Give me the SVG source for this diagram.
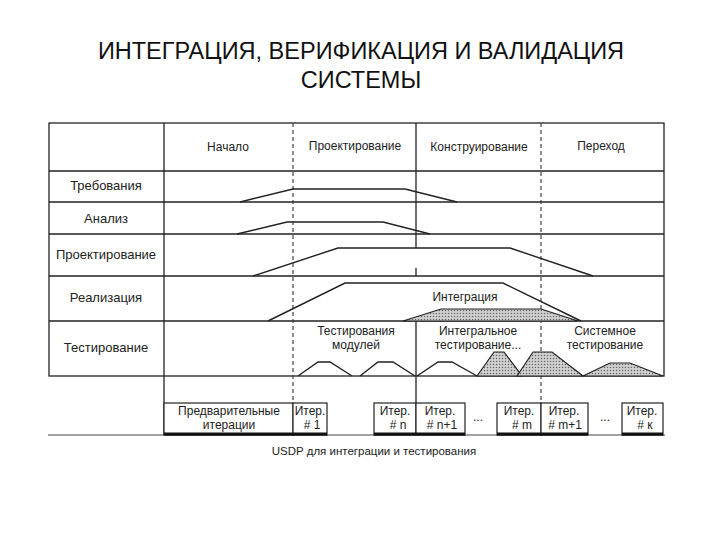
<svg xmlns="http://www.w3.org/2000/svg" width="720" height="540" viewBox="0 0 720 540">
<defs>
<pattern id="dots" width="3" height="3" patternUnits="userSpaceOnUse">
<rect width="3" height="3" fill="#d0d0d0"/>
<circle cx="1.5" cy="1.5" r="0.75" fill="#666"/>
</pattern>
</defs>
<style>
text{font-family:"Liberation Sans",Arial,sans-serif;fill:#222;text-anchor:middle}
.title{font-size:23.5px;fill:#111}
.lbl{font-size:13px}
.sm{font-size:12px}
.cap{font-size:11.5px}
.ln{stroke:#222;stroke-width:1.3;fill:none}
.dash{stroke:#333;stroke-width:1.1;stroke-dasharray:4 3;fill:none}
.tr{stroke:#222;stroke-width:1.4;fill:none}
.dot{stroke:#222;stroke-width:1.2;fill:url(#dots)}
.box{stroke:#222;stroke-width:1.2;fill:#fff}
.thick{stroke:#111;stroke-width:3}
</style>
<rect width="720" height="540" fill="#fff"/>
<g id="title">
<text class="title" x="361" y="59">ИНТЕГРАЦИЯ, ВЕРИФИКАЦИЯ И ВАЛИДАЦИЯ</text>
<text class="title" x="361" y="88">СИСТЕМЫ</text>
</g>
<g id="grid">
<rect class="ln" x="49" y="123" width="615" height="253"/>
<line class="ln" x1="49" y1="171" x2="664" y2="171"/>
<line class="ln" x1="49" y1="202" x2="664" y2="202"/>
<line class="ln" x1="49" y1="234" x2="664" y2="234"/>
<line class="ln" x1="49" y1="276" x2="664" y2="276"/>
<line class="ln" x1="49" y1="321" x2="664" y2="321"/>
<line class="ln" x1="164" y1="123" x2="164" y2="435"/>
<line class="dash" x1="293" y1="123" x2="293" y2="403"/>
<line class="dash" x1="541" y1="123" x2="541" y2="403"/>
<line class="ln" x1="416" y1="123" x2="416" y2="248"/>
<line class="ln" x1="416" y1="268" x2="416" y2="276"/>
<line class="ln" x1="416" y1="321" x2="416" y2="403"/>
<line x1="48" y1="435" x2="665" y2="435" stroke="#444" stroke-width="1"/>
</g>
<g id="header">
<text class="sm" x="228" y="151">Начало</text>
<text class="sm" x="355" y="150">Проектирование</text>
<text class="sm" x="479" y="151">Конструирование</text>
<text class="sm" x="601" y="150">Переход</text>
</g>
<g id="rowlabels">
<text class="lbl" x="106" y="190">Требования</text>
<text class="lbl" x="106" y="223">Анализ</text>
<text class="lbl" x="106" y="259">Проектирование</text>
<text class="lbl" x="106" y="302">Реализация</text>
<text class="lbl" x="106" y="352">Тестирование</text>
</g>
<g id="curves">
<polyline class="tr" points="240,202 293,189 405,189 457,202"/>
<polyline class="tr" points="237,234 287,222 383,222 430,234"/>
<polyline class="tr" points="253,276 338,248 510,248 593,276"/>
<polyline class="tr" points="268,321 345,283 503,283 581,321"/>
<polygon class="dot" points="403,321 441,309 541,309 578,321"/>
<text class="sm" x="465" y="301">Интеграция</text>
</g>
<g id="testing">
<text class="sm" x="356" y="335">Тестирования</text>
<text class="sm" x="356" y="349">модулей</text>
<text class="sm" x="478" y="335">Интегральное</text>
<text class="sm" x="478" y="349">тестирование...</text>
<text class="sm" x="605" y="335">Системное</text>
<text class="sm" x="605" y="349">тестирование</text>
<polyline class="tr" points="298,376 318,362 330,362 352,376"/>
<polyline class="tr" points="360,376 378,362 393,362 415,376"/>
<polyline class="tr" points="417,376 438,362 452,362 477,376"/>
<polygon class="dot" points="477,376 494,352 504,352 522,376"/>
<polygon class="dot" points="517,376 533,352 552,352 583,376"/>
<polygon class="dot" points="583,376 610,363 630,363 663,376"/>
</g>
<g id="iterations">
<rect class="box" x="164" y="403" width="129" height="32"/>
<rect class="box" x="293" y="403" width="34" height="32"/>
<rect class="box" x="374" y="403" width="42" height="32"/>
<rect class="box" x="416" y="403" width="49" height="32"/>
<rect class="box" x="497" y="403" width="44" height="32"/>
<rect class="box" x="541" y="403" width="47" height="32"/>
<rect class="box" x="622" y="403" width="41" height="32"/>
<line class="thick" x1="164" y1="434" x2="327" y2="434"/>
<line class="thick" x1="374" y1="434" x2="465" y2="434"/>
<line class="thick" x1="497" y1="434" x2="588" y2="434"/>
<line class="thick" x1="622" y1="434" x2="663" y2="434"/>
<text class="sm" x="229" y="415">Предварительные</text>
<text class="sm" x="229" y="429">итерации</text>
<text class="sm" x="310" y="415">Итер.</text>
<text class="sm" x="312" y="429"># 1</text>
<text class="sm" x="395" y="415">Итер.</text>
<text class="sm" x="398" y="429"># n</text>
<text class="sm" x="440" y="415">Итер.</text>
<text class="sm" x="442" y="429"># n+1</text>
<text class="sm" x="478" y="421">...</text>
<text class="sm" x="519" y="415">Итер.</text>
<text class="sm" x="522" y="429"># m</text>
<text class="sm" x="564" y="415">Итер.</text>
<text class="sm" x="565" y="429"># m+1</text>
<text class="sm" x="605" y="421">...</text>
<text class="sm" x="642" y="415">Итер.</text>
<text class="sm" x="645" y="429"># к</text>
</g>
<text class="cap" x="374" y="455">USDP для интеграции и тестирования</text>
</svg>
